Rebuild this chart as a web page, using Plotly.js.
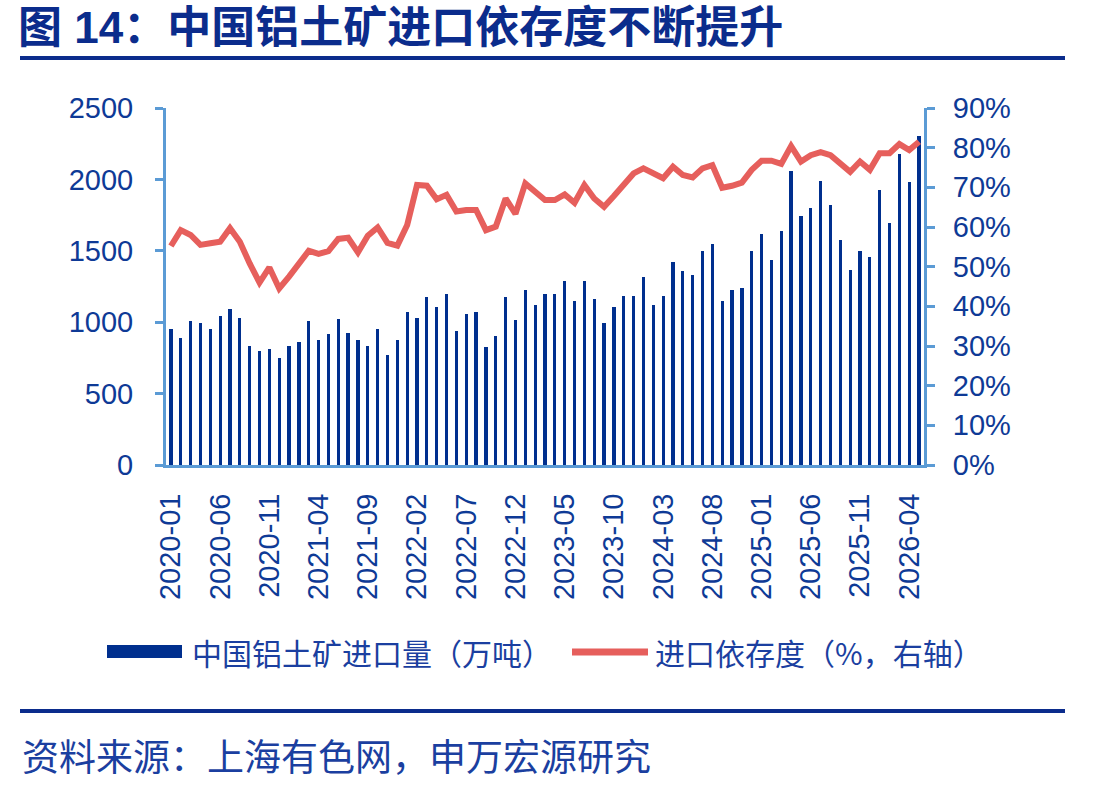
<!DOCTYPE html>
<html>
<head>
<meta charset="utf-8">
<script src="https://cdn.plot.ly/plotly-3.0.1.min.js"></script>
<style>
  html, body { margin: 0; padding: 0; background: #ffffff; }
  #chart { width: 1100px; height: 787px; }
</style>
</head>
<body>
<div id="chart"></div>
<script>
// ---------------- data ----------------
const months = [
  "2020-01","2020-02","2020-03","2020-04","2020-05","2020-06","2020-07","2020-08","2020-09","2020-10","2020-11","2020-12",
  "2021-01","2021-02","2021-03","2021-04","2021-05","2021-06","2021-07","2021-08","2021-09","2021-10","2021-11","2021-12",
  "2022-01","2022-02","2022-03","2022-04","2022-05","2022-06","2022-07","2022-08","2022-09","2022-10","2022-11","2022-12",
  "2023-01","2023-02","2023-03","2023-04","2023-05","2023-06","2023-07","2023-08","2023-09","2023-10","2023-11","2023-12",
  "2024-01","2024-02","2024-03","2024-04","2024-05","2024-06","2024-07","2024-08","2024-09","2024-10","2024-11","2024-12",
  "2025-01","2025-02","2025-03","2025-04","2025-05","2025-06","2025-07","2025-08","2025-09","2025-10","2025-11","2025-12",
  "2026-01","2026-02","2026-03","2026-04","2026-05"
];

// 中国铝土矿进口量（万吨）
const importVolume = [
  953, 888, 1007, 993, 955, 1044, 1095, 1030, 836, 797, 811, 748, 836, 862, 1007, 876, 916, 1021, 927, 876,
  836, 953, 771, 876, 1070, 1032, 1175, 1109, 1200, 941, 1058, 1070, 825, 902, 1175, 1018, 1226, 1121, 1200, 1200,
  1292, 1149, 1292, 1161, 993, 1109, 1186, 1186, 1317, 1123, 1186, 1420, 1357, 1329, 1500, 1551, 1149, 1226, 1240, 1500,
  1617, 1434, 1642, 2058, 1745, 1799, 1992, 1824, 1577, 1369, 1500, 1460, 1929, 1694, 2175, 1981, 2303
];

// 进口依存度（%，右轴）
const dependence = [
  55.2, 59.2, 58.0, 55.5, 55.9, 56.3, 59.7, 56.3, 50.8, 46.0, 49.8, 44.5, 47.5, 50.7, 54.0, 53.2, 53.9, 57.0, 57.3, 53.6,
  57.8, 59.9, 56.0, 55.3, 60.5, 70.6, 70.4, 67.0, 68.1, 63.9, 64.3, 64.3, 59.2, 60.1, 67.2, 63.3, 71.0, 68.9, 66.8, 66.8,
  68.2, 66.1, 70.6, 67.2, 65.1, 67.8, 70.8, 73.5, 74.8, 73.7, 72.3, 75.2, 73.1, 72.5, 74.8, 75.6, 69.9, 70.4, 71.2, 74.4,
  76.7, 76.7, 75.9, 80.4, 76.5, 78.1, 78.9, 78.1, 76.2, 73.9, 76.5, 74.4, 78.6, 78.6, 80.9, 79.4, 81.5
];

const labelMonths = ["2020-01","2020-06","2020-11","2021-04","2021-09","2022-02","2022-07","2022-12",
  "2023-05","2023-10","2024-03","2024-08","2025-01","2025-06","2025-11","2026-04"];

const leftTicks = [0, 500, 1000, 1500, 2000, 2500];
const rightTicks = [0, 10, 20, 30, 40, 50, 60, 70, 80, 90];
const rightTickText = ["0%", "10%", "20%", "30%", "40%", "50%", "60%", "70%", "80%", "90%"];

const titleText = "图 14：中国铝土矿进口依存度不断提升";
const legendBar = "中国铝土矿进口量（万吨）";
const legendLine = "进口依存度（%，右轴）";
const sourceText = "资料来源：上海有色网，申万宏源研究";

// ---------------- styling ----------------
const W = 1100, H = 787;
const plotL = 166, plotR = 924, plotT = 108, plotB = 465;
const barColor = "#002F8E";
const lineColor = "#E65F5C";
const axisColor = "#5B9BD5";
const tickFontColor = "#0E3A96";
const textColor = "#1B3FA0";
const titleColor = "#0B2C8C";
const numFont = "Liberation Sans, Arial, sans-serif";
const cjkFont = "Noto Sans CJK SC, sans-serif";

// helpers converting pixel positions to paper coordinates
const px = x => (x - plotL) / (plotR - plotL);
const py = y => (plotB - y) / (plotB - plotT);

const idx = months.map((m, i) => i);
const labelIdx = labelMonths.map(m => months.indexOf(m));
const boundaryIdx = labelIdx.map(i => i - 0.5);

const traces = [
  {
    type: "bar",
    x: idx,
    y: importVolume,
    name: legendBar,
    marker: { color: barColor },
    width: 0.33,
    xaxis: "x",
    yaxis: "y",
    hoverinfo: "x+y"
  },
  {
    type: "scatter",
    mode: "lines",
    x: idx,
    y: dependence,
    name: legendLine,
    line: { color: lineColor, width: 6, shape: "linear" },
    xaxis: "x",
    yaxis: "y2"
  }
];

const layout = {
  width: W,
  height: H,
  paper_bgcolor: "#ffffff",
  plot_bgcolor: "#ffffff",
  showlegend: false,
  margin: { l: plotL, r: W - plotR, t: plotT, b: H - plotB, pad: 0 },
  bargap: 0,
  title: {
    text: "<b>" + titleText + "</b>",
    x: 18 / W,
    xanchor: "left",
    xref: "container",
    y: 1 - 28 / H,
    yanchor: "middle",
    yref: "container",
    font: { family: "Liberation Sans, Noto Sans CJK SC, sans-serif", size: 44, color: titleColor }
  },
  xaxis: {
    type: "linear",
    range: [-0.5, months.length - 0.5],
    tickmode: "array",
    tickvals: labelIdx,
    ticktext: labelMonths,
    tickangle: -90,
    ticks: "",
    ticklabelstandoff: 14,
    showline: true,
    linecolor: axisColor,
    linewidth: 3,
    showgrid: false,
    zeroline: false,
    tickfont: { family: numFont, size: 29, color: tickFontColor },
    fixedrange: true
  },
  xaxis2: {
    type: "linear",
    overlaying: "x",
    anchor: "y",
    side: "bottom",
    range: [-0.5, months.length - 0.5],
    tickmode: "array",
    tickvals: boundaryIdx,
    showticklabels: false,
    ticks: "outside",
    ticklen: 8,
    tickwidth: 3,
    tickcolor: axisColor,
    minor: { tickmode: "linear", tick0: -0.5, dtick: 1, ticks: "inside", ticklen: 4, tickwidth: 2, tickcolor: axisColor },
    showgrid: false,
    zeroline: false,
    showline: false,
    fixedrange: true
  },
  yaxis: {
    range: [0, 2500],
    tickmode: "array",
    tickvals: leftTicks,
    ticks: "outside",
    ticklen: 8,
    tickwidth: 3,
    tickcolor: axisColor,
    ticklabelstandoff: 16,
    showline: true,
    linecolor: axisColor,
    linewidth: 3,
    showgrid: false,
    zeroline: false,
    tickfont: { family: numFont, size: 29, color: tickFontColor },
    fixedrange: true
  },
  yaxis2: {
    overlaying: "y",
    side: "right",
    anchor: "x",
    range: [0, 90],
    tickmode: "array",
    tickvals: rightTicks,
    ticktext: rightTickText,
    ticks: "outside",
    ticklen: 8,
    tickwidth: 3,
    tickcolor: axisColor,
    ticklabelstandoff: 12,
    showline: true,
    linecolor: axisColor,
    linewidth: 3,
    showgrid: false,
    zeroline: false,
    tickfont: { family: numFont, size: 29, color: tickFontColor },
    fixedrange: true
  },
  shapes: [
    // title underline
    { type: "line", xref: "paper", yref: "paper", x0: px(20), x1: px(1065), y0: py(58), y1: py(58),
      line: { color: titleColor, width: 4 } },
    // bottom rule
    { type: "line", xref: "paper", yref: "paper", x0: px(20), x1: px(1065), y0: py(711), y1: py(711),
      line: { color: titleColor, width: 4 } },
    // legend: bar swatch
    { type: "rect", xref: "paper", yref: "paper", x0: px(107), x1: px(182), y0: py(658), y1: py(645),
      fillcolor: barColor, line: { width: 0 } },
    // legend: line swatch
    { type: "line", xref: "paper", yref: "paper", x0: px(572), x1: px(648), y0: py(652), y1: py(652),
      line: { color: lineColor, width: 7 } }
  ],
  annotations: [
    { xref: "paper", yref: "paper", x: px(190), y: py(652), xanchor: "left", yanchor: "middle",
      text: legendBar, showarrow: false,
      font: { family: cjkFont, size: 30, color: textColor } },
    { xref: "paper", yref: "paper", x: px(653), y: py(652), xanchor: "left", yanchor: "middle",
      text: legendLine, showarrow: false,
      font: { family: cjkFont, size: 30, color: textColor } },
    { xref: "paper", yref: "paper", x: px(20), y: py(755), xanchor: "left", yanchor: "middle",
      text: sourceText, showarrow: false,
      font: { family: cjkFont, size: 37, color: textColor } }
  ]
};

Plotly.newPlot("chart", traces, layout, { displayModeBar: false, responsive: false });
</script>
</body>
</html>
